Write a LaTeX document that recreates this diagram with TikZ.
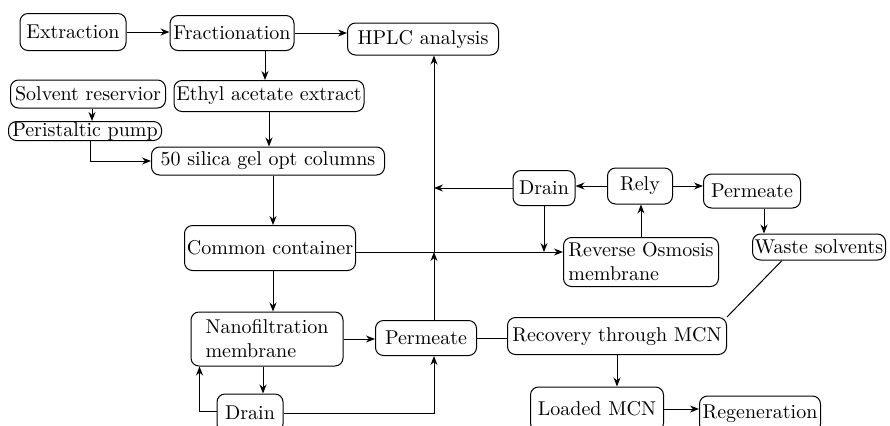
\documentclass[tikz,border=0pt]{standalone}
\usetikzlibrary{arrows.meta}

\tikzset{
  box/.style={draw, rounded corners=4pt, line width=0.5pt, inner sep=1pt, align=center},
  flow/.style={line width=0.5pt, -{Stealth[length=4.5pt,width=3.5pt]}},
  link/.style={line width=0.5pt},
}

\begin{document}
\begin{tikzpicture}[x=0.5pt,y=-0.5pt]
    \useasboundingbox (0,0) rectangle (890,425);

    % top row
    \node[box, minimum width=53pt, minimum height=18.5pt] (extr) at (73,32) {Extraction};
    \node[box, minimum width=62pt, minimum height=17.5pt] (frac) at (232,33) {Fractionation};
    \node[box, minimum width=75.5pt, minimum height=16pt] (hplc) at (423,39) {HPLC analysis};

    % column feed
    \node[box, minimum width=77.5pt, minimum height=14pt] (solv) at (88,94) {Solvent reservior};
    \node[box, minimum width=95pt, minimum height=15.5pt] (ethyl) at (269,96) {Ethyl acetate extract};
    \node[box, minimum width=76.5pt, minimum height=9.5pt, inner sep=0.3pt] (pump) at (85,131) {Peristaltic pump};
    \node[box, minimum width=116.5pt, minimum height=14pt] (silica) at (268,161) {50 silica gel opt columns};

    % reverse osmosis loop
    \node[box, minimum width=31pt, minimum height=17.5pt] (drainA) at (544,188) {Drain};
    \node[box, minimum width=32.5pt, minimum height=18pt] (rely) at (640,186) {Rely};
    \node[box, minimum width=48.5pt, minimum height=17pt] (permA) at (752,191) {Permeate};
    \node[box, minimum width=85.5pt, minimum height=22.5pt] (common) at (270,248) {Common container};
    \node[box, minimum width=77.5pt, minimum height=24.5pt, align=left] (ro) at (641,262) {Reverse Osmosis\\membrane};
    \node[box, minimum width=66.5pt, minimum height=13pt] (waste) at (819,247) {Waste solvents};

    % nanofiltration
    \node[box, minimum width=76pt, minimum height=27pt, align=left] (nano) at (267,339) {Nanofiltration\\membrane};
    \node[box, minimum width=50.5pt, minimum height=17.5pt] (permB) at (426,338) {Permeate};
    \node[box, minimum width=109.5pt, minimum height=18.5pt] (recov) at (617,336) {Recovery through MCN};
    \node[box, minimum width=33pt, minimum height=19pt] (drainB) at (250,413) {Drain};
    \node[box, minimum width=66.5pt, minimum height=22pt] (loaded) at (597,409) {Loaded MCN};
    \node[box, minimum width=60.5pt, minimum height=18pt] (regen) at (760,414) {Regeneration};

    \coordinate (trunk) at (434,252);

    \draw[flow] (extr.east) -- (extr.east -| frac.west);
    \draw[flow] (frac.east) -- (frac.east -| hplc.west);
    \draw[flow] ([xshift=-2pt]ethyl.north |- frac.south) -- ([xshift=-2pt]ethyl.north);
    \draw[flow] ([xshift=2pt]solv.south) -- ([xshift=2pt]solv.south |- pump.north);
    \draw[flow] ([xshift=2.5pt]pump.south) |- (silica.west);
    \draw[flow] (ethyl.south) -- (ethyl.south |- silica.north);
    \draw[flow] ([xshift=1.5pt]common.north |- silica.south) -- ([xshift=1.5pt]common.north);
    \draw[flow] ([xshift=1.5pt]common.south) -- ([xshift=1.5pt]common.south |- nano.north);

    % main trunk to HPLC
    \draw[flow] (permB.north -| trunk) -- (trunk);
    \draw[flow] (trunk) -- (trunk |- hplc.south);
    \draw[flow] (common.east |- trunk) -- (trunk -| ro.west);
    \draw[flow] (drainA.west) -- (drainA.west -| trunk);
    \draw[flow] (drainA.south) -- (drainA.south |- trunk);
    \draw[flow] (rely.west) -- (rely.west -| drainA.east);
    \draw[flow] (rely.east) -- (rely.east -| permA.west);
    \draw[flow] (ro.north) -- (ro.north |- rely.south);
    \draw[flow] ([xshift=6pt]permA.south) -- ([xshift=6pt]permA.south |- waste.north);
    \draw[link] ([xshift=-18.5pt]waste.south) -- (recov.north east);

    % lower part
    \draw[flow] (nano.east) -- (nano.east -| permB.west);
    \draw[link] (permB.east) -- (permB.east -| recov.west);
    \draw[flow] (recov.south) -- (recov.south |- loaded.north);
    \draw[flow] (loaded.east) -- (loaded.east -| regen.west);
    \draw[flow] ([xshift=-2pt]nano.south) -- ([xshift=-2pt]nano.south |- drainB.north);
    \draw[flow] ([yshift=1pt]drainB.west) -| ([xshift=4.5pt]nano.south west);
    \draw[flow] (drainB.east) -| (permB.south -| trunk);
\end{tikzpicture}
\end{document}
